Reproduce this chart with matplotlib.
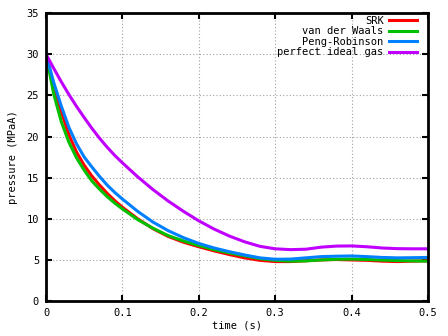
import matplotlib
matplotlib.use("Agg")
import matplotlib.pyplot as plt


time_s = [0.00, 0.01, 0.02, 0.03, 0.04, 0.05, 0.06, 0.07, 0.08, 0.09,
          0.10, 0.12, 0.14, 0.16, 0.18, 0.20, 0.22, 0.24, 0.26, 0.28,
          0.30, 0.32, 0.34, 0.36, 0.38, 0.40, 0.42, 0.44, 0.46, 0.48, 0.50]

srk = [30.0, 26.2, 23.0, 20.2, 18.1, 16.5, 15.2, 14.1, 13.1, 12.2,
       11.4, 10.0, 8.8, 7.85, 7.15, 6.6, 6.1, 5.65, 5.25, 4.95,
       4.8, 4.8, 4.9, 5.0, 5.05, 5.0, 4.95, 4.85, 4.8, 4.85, 4.9]

vdw = [30.0, 25.2, 21.8, 19.3, 17.4, 15.9, 14.6, 13.6, 12.7, 11.9,
       11.2, 9.9, 8.85, 7.95, 7.3, 6.75, 6.25, 5.85, 5.5, 5.15,
       4.95, 4.85, 4.88, 5.0, 5.08, 5.1, 5.05, 4.98, 4.92, 4.88, 4.85]

peng_robinson = [30.0, 26.6, 23.7, 21.1, 19.1, 17.5, 16.3, 15.15, 14.1, 13.2,
                 12.4, 10.9, 9.6, 8.55, 7.7, 7.0, 6.45, 6.0, 5.6, 5.25,
                 5.08, 5.1, 5.25, 5.4, 5.45, 5.48, 5.4, 5.3, 5.25, 5.27, 5.3]

ideal_gas = [30.0, 28.3, 26.65, 25.1, 23.65, 22.3, 21.0, 19.8, 18.7, 17.7,
             16.8, 15.1, 13.55, 12.15, 10.9, 9.75, 8.75, 7.9, 7.2, 6.65,
             6.35, 6.25, 6.3, 6.55, 6.68, 6.7, 6.6, 6.45, 6.37, 6.35, 6.35]

x_ticks = [0, 0.1, 0.2, 0.3, 0.4, 0.5]
x_labels = ["0", "0.1", "0.2", "0.3", "0.4", "0.5"]
y_ticks = [0, 5, 10, 15, 20, 25, 30, 35]


plt.rcParams["font.family"] = ["DejaVu Sans Mono"]
plt.rcParams["font.size"] = 7.5

fig = plt.figure(figsize=(4.48, 3.36), dpi=100)
ax = fig.add_axes([0.1027, 0.104, 0.8527, 0.857])

ax.plot(time_s, srk, color="#ff0000", linewidth=2.2, label="SRK")
ax.plot(time_s, vdw, color="#00c000", linewidth=2.2, label="van der Waals")
ax.plot(time_s, peng_robinson, color="#0080ff", linewidth=2.2, label="Peng-Robinson")
ax.plot(time_s, ideal_gas, color="#c000ff", linewidth=2.2, label="perfect ideal gas")

ax.set_xlim(0, 0.5)
ax.set_ylim(0, 35)
ax.set_xticks(x_ticks)
ax.set_xticklabels(x_labels)
ax.set_yticks(y_ticks)

ax.grid(True, color="#a0a0a0", linestyle=(0, (1, 2)), linewidth=0.8)
ax.set_axisbelow(True)

for spine in ax.spines.values():
    spine.set_linewidth(2)

ax.tick_params(
    direction="in",
    length=4,
    width=1.5,
    top=True,
    right=True,
    pad=5
)

ax.set_xlabel("time (s)", labelpad=2)
ax.set_ylabel("pressure (MPaA)", labelpad=6)

ax.legend(
    loc="upper right",
    bbox_to_anchor=(0.982, 1.005),
    borderaxespad=0,
    frameon=False,
    markerfirst=False,
    handlelength=2.7,
    labelspacing=0.05,
    handletextpad=0.5
)

plt.savefig("out.png", dpi=100)
plt.close()
